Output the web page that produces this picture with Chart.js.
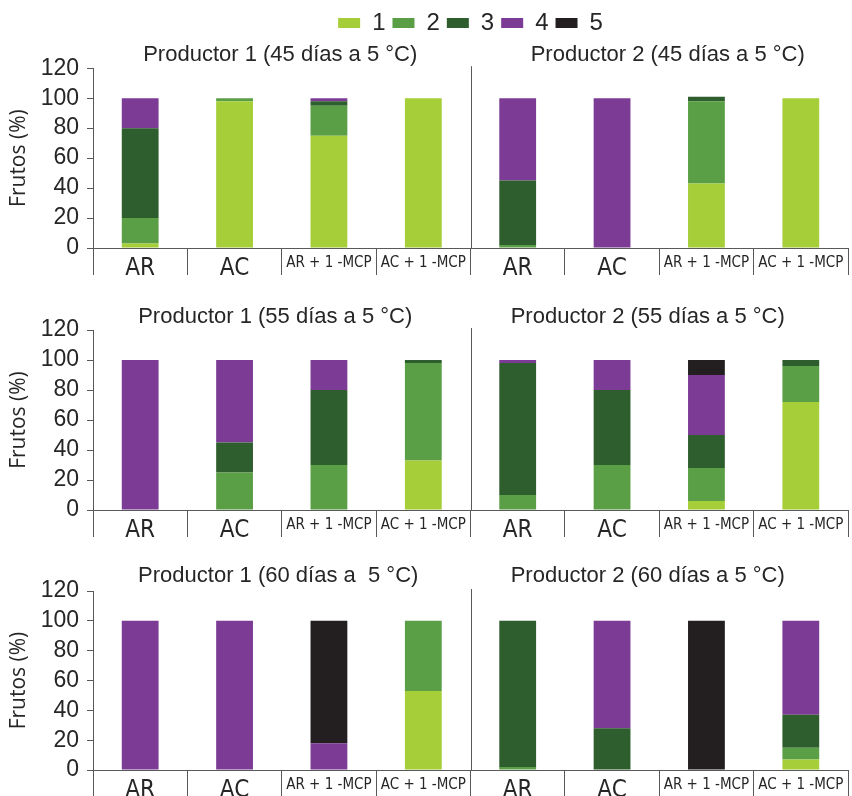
<!DOCTYPE html>
<html>
<head>
<meta charset="utf-8">
<script src="https://cdn.jsdelivr.net/npm/chart.js@4.4.1/dist/chart.umd.min.js"></script>
<style>
  body { margin: 0; background: #fff; }
  #wrap { position: relative; width: 852px; height: 796px; overflow: hidden; }
  canvas { position: absolute; left: 0; }
</style>
</head>
<body>
<div id="wrap">
  <canvas id="c45" width="852" height="290" style="top:0px"></canvas>
  <canvas id="c55" width="852" height="255" style="top:290px"></canvas>
  <canvas id="c60" width="852" height="251" style="top:545px"></canvas>
</div>
<script>
// categories (4 per productor)
const categories = ['AR', 'AC', 'AR + 1 -MCP', 'AC + 1 -MCP', 'AR', 'AC', 'AR + 1 -MCP', 'AC + 1 -MCP'];
const stages = ['1', '2', '3', '4', '5'];
const stageColors = ['#a6ce39', '#5a9e45', '#2e5e2e', '#7c3c95', '#231f20'];

// 45 dias a 5 C
const dia45_1 = [3, 98, 75, 100, 0, 0, 43, 100];
const dia45_2 = [17, 2, 20, 0, 2, 0, 55, 0];
const dia45_3 = [60, 0, 3, 0, 43, 0, 3, 0];
const dia45_4 = [20, 0, 2, 0, 55, 100, 0, 0];
const dia45_5 = [0, 0, 0, 0, 0, 0, 0, 0];

// 55 dias a 5 C
const dia55_1 = [0, 0, 0, 33, 0, 0, 6, 72];
const dia55_2 = [0, 25, 30, 65, 10, 30, 22, 24];
const dia55_3 = [0, 20, 50, 2, 88, 50, 22, 4];
const dia55_4 = [100, 55, 20, 0, 2, 20, 40, 0];
const dia55_5 = [0, 0, 0, 0, 0, 0, 10, 0];

// 60 dias a 5 C
const dia60_1 = [0, 0, 0, 53, 0, 0, 0, 7];
const dia60_2 = [0, 0, 0, 47, 2, 0, 0, 8];
const dia60_3 = [0, 0, 0, 0, 98, 28, 0, 22];
const dia60_4 = [100, 100, 18, 0, 0, 72, 0, 63];
const dia60_5 = [0, 0, 82, 0, 0, 0, 100, 0];

const titles45 = ['Productor 1 (45 días a 5 °C)', 'Productor 2 (45 días a 5 °C)'];
const titles55 = ['Productor 1 (55 días a 5 °C)', 'Productor 2 (55 días a 5 °C)'];
const titles60 = ['Productor 1 (60 días a  5 °C)', 'Productor 2 (60 días a 5 °C)'];

const yMax = 120;
const yStep = 20;

const axisColor = '#595959';
const textColor = '#262626';

// vertical separator between productores + panel titles
const panelDecor = {
    id: 'panelDecor',
    afterDraw(chart, args, opts) {
        const {ctx, chartArea} = chart;
        const x = chart.scales.x;
        const mid = Math.round((x.getPixelForValue(3) + x.getPixelForValue(4)) / 2) + 0.5;
        ctx.save();
        ctx.strokeStyle = axisColor;
        ctx.lineWidth = 1;
        ctx.beginPath();
        ctx.moveTo(mid, chartArea.top - 2);
        ctx.lineTo(mid, chartArea.bottom);
        ctx.stroke();

        ctx.font = '22px "Liberation Sans", Arial, sans-serif';
        ctx.fillStyle = textColor;
        ctx.textAlign = 'center';
        ctx.textBaseline = 'middle';
        const centers = [(chartArea.left + mid) / 2, (mid + chartArea.right) / 2];
        opts.titles.forEach((t, i) => {
            ctx.fillText(t, centers[i] + opts.shift[i], chartArea.top - opts.gap);
        });
        ctx.restore();
    }
};

const makeChart = (id, series, titles, opt) => {
    const ctx = document.getElementById(id).getContext('2d');
    return new Chart(ctx, {
        type: 'bar',
        data: {
            labels: categories,
            datasets: series.map((s, i) => ({
                label: stages[i],
                data: s,
                backgroundColor: stageColors[i],
                borderWidth: 0,
                categoryPercentage: 1,
                barPercentage: 0.39
            }))
        },
        options: {
            responsive: false,
            animation: false,
            layout: {
                padding: {top: opt.padTop, right: 4, left: 0, bottom: 0}
            },
            plugins: {
                legend: {
                    display: opt.legend,
                    position: 'top',
                    fullSize: false,
                    weight: 3000,
                    labels: {
                        boxWidth: 22,
                        boxHeight: 10,
                        padding: 7,
                        color: textColor,
                        font: {family: '"Liberation Sans", Arial, sans-serif', size: 24}
                    }
                },
                title: {
                    display: opt.legend,
                    text: ' ',
                    font: {size: 1},
                    padding: {top: 0, bottom: opt.spacer || 0}
                },
                tooltip: {enabled: false},
                panelDecor: {titles: titles, gap: opt.gap, shift: opt.shift}
            },
            scales: {
                x: {
                    stacked: true,
                    border: {color: axisColor, width: 1},
                    grid: {
                        offset: true,
                        drawOnChartArea: false,
                        tickLength: 27,
                        color: axisColor
                    },
                    ticks: {
                        autoSkip: false,
                        maxRotation: 0,
                        padding: -21,
                        color: textColor,
                        font: (c) => ({
                            family: '"Liberation Sans Narrow", "DejaVu Sans Condensed", sans-serif',
                            size: c.tick && c.tick.label.length > 3 ? 15 : 24
                        })
                    },
                    afterFit: (scale) => { scale.height = opt.xHeight; }
                },
                y: {
                    stacked: true,
                    min: 0,
                    max: yMax,
                    border: {color: axisColor, width: 1},
                    grid: {
                        drawOnChartArea: false,
                        tickLength: 6,
                        color: axisColor
                    },
                    ticks: {
                        stepSize: yStep,
                        autoSkip: false,
                        maxTicksLimit: 10,
                        padding: 8,
                        color: textColor,
                        font: {family: '"Liberation Sans", Arial, sans-serif', size: 23, lineHeight: 1}
                    },
                    title: {
                        display: true,
                        text: 'Frutos (%)',
                        color: textColor,
                        padding: {top: 6, bottom: 0},
                        font: {family: '"Open Sans", sans-serif', size: 21}
                    },
                    afterFit: (scale) => { scale.width = 93; }
                }
            }
        },
        plugins: [panelDecor]
    });
};

makeChart('c45', [dia45_1, dia45_2, dia45_3, dia45_4, dia45_5], titles45,
    {legend: true, padTop: 4, spacer: 22, xHeight: 42, gap: 13, shift: [-2, 8]});
makeChart('c55', [dia55_1, dia55_2, dia55_3, dia55_4, dia55_5], titles55,
    {legend: false, padTop: 40, xHeight: 35, gap: 13, shift: [-7, -12]});
makeChart('c60', [dia60_1, dia60_2, dia60_3, dia60_4, dia60_5], titles60,
    {legend: false, padTop: 46, xHeight: 26, gap: 15, shift: [-4, -12]});
</script>
</body>
</html>
